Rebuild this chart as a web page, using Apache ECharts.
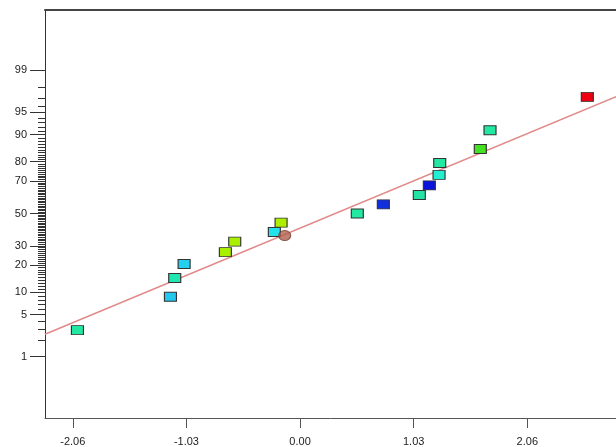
<!DOCTYPE html>
<html>
<head>
<meta charset="utf-8">
<script src="https://cdn.jsdelivr.net/npm/echarts@6/dist/echarts.min.js"></script>
<style>
html,body{margin:0;padding:0;background:#fff;}
#chart{width:616px;height:447px;}
</style>
</head>
<body>
<div id="chart"></div>
<script>
// ---- data ----
var residuals = [-2.018, -1.175, -1.136, -1.051, -0.677, -0.592, -0.233, -0.172, 0.519, 0.755, 1.081, 1.172, 1.260, 1.266, 1.634, 1.722, 2.604];
var normalPercent = [2.9, 8.8, 14.7, 20.6, 26.5, 32.4, 38.2, 44.1, 50.0, 55.9, 61.8, 67.6, 73.5, 79.4, 85.3, 91.2, 97.1];
var pointColors = ['#22e8a2', '#22c8ee', '#22e6b0', '#22cfee', '#a9ef00', '#a9ef00', '#22e2ee', '#aeef00', '#22e8a2', '#1030e0', '#22e2a4', '#0a14dc', '#22efd0', '#22e8a2', '#44e022', '#22e8a2', '#ee0010'];
var markedX = [-0.139];
var markedPercent = [36.0];
var fitLineX = [-2.312, 2.864];
var fitLineZ = [-1.964, 1.899];
var xTickValues = [-2.06, -1.03, 0.00, 1.03, 2.06];
var yTickLabels = [1, 5, 10, 20, 30, 50, 70, 80, 90, 95, 99];
var yMinorPercents = [];
for (var k = 1; k <= 99; k++) yMinorPercents.push(k);

// inverse normal CDF (Acklam) for the probability axis
function probit(p) {
  var a = [-3.969683028665376e+01, 2.209460984245205e+02, -2.759285104469687e+02, 1.383577518672690e+02, -3.066479806614716e+01, 2.506628277459239e+00];
  var b = [-5.447609879822406e+01, 1.615858368580409e+02, -1.556989798598866e+02, 6.680131188771972e+01, -1.328068155288572e+01];
  var c = [-7.784894002430293e-03, -3.223964580411365e-01, -2.400758277161838e+00, -2.549732539343734e+00, 4.374664141464968e+00, 2.938163982698783e+00];
  var d = [7.784695709041462e-03, 3.224671290700398e-01, 2.445134137142996e+00, 3.754408661907416e+00];
  var plow = 0.02425, phigh = 1 - plow, q, r;
  if (p < plow) {
    q = Math.sqrt(-2 * Math.log(p));
    return (((((c[0]*q+c[1])*q+c[2])*q+c[3])*q+c[4])*q+c[5]) / ((((d[0]*q+d[1])*q+d[2])*q+d[3])*q+1);
  } else if (p <= phigh) {
    q = p - 0.5; r = q * q;
    return (((((a[0]*r+a[1])*r+a[2])*r+a[3])*r+a[4])*r+a[5])*q / (((((b[0]*r+b[1])*r+b[2])*r+b[3])*r+b[4])*r+1);
  } else {
    q = Math.sqrt(-2 * Math.log(1 - p));
    return -(((((c[0]*q+c[1])*q+c[2])*q+c[3])*q+c[4])*q+c[5]) / ((((d[0]*q+d[1])*q+d[2])*q+d[3])*q+1);
  }
}
var majorZ = yTickLabels.map(function (v) { return probit(v / 100); });
var minorZ = yMinorPercents.map(function (v) { return probit(v / 100); });

var pointData = residuals.map(function (x, i) {
  return { value: [x, probit(normalPercent[i] / 100)], itemStyle: { color: pointColors[i] } };
});
var markedData = markedX.map(function (x, i) { return [x, probit(markedPercent[i] / 100)]; });
var lineData = fitLineX.map(function (x, i) { return [x, fitLineZ[i]]; });

var font = 'Liberation Sans, Arial, sans-serif';
var chart = echarts.init(document.getElementById('chart'), null, { renderer: 'canvas' });
chart.setOption({
  animation: false,
  backgroundColor: '#fff',
  grid: { left: 45, top: 10, width: 571, height: 408, show: false },
  xAxis: [{
    type: 'value', min: -2.312, max: 2.864, position: 'bottom',
    axisLine: { show: true, onZero: false, lineStyle: { color: '#555', width: 1 } },
    axisTick: { show: true, customValues: xTickValues, length: 10, lineStyle: { color: '#555' } },
    axisLabel: { show: true, customValues: xTickValues, margin: 18, color: '#222', fontSize: 11, fontFamily: font,
      formatter: function (v) { return Number(v).toFixed(2); } },
    splitLine: { show: false }
  }, {
    type: 'value', min: -2.312, max: 2.864, position: 'top',
    axisLine: { show: true, onZero: false, lineStyle: { color: '#444', width: 2 } },
    axisTick: { show: false }, axisLabel: { show: false }, splitLine: { show: false }
  }],
  yAxis: [{
    type: 'value', min: -3.325, max: 3.309, position: 'left',
    axisLine: { show: true, onZero: false, lineStyle: { color: '#333', width: 1 } },
    axisTick: { show: true, customValues: majorZ, length: 15, lineStyle: { color: '#333' } },
    axisLabel: { show: true, customValues: majorZ, margin: 18, color: '#222', fontSize: 11, fontFamily: font,
      formatter: function (v) {
        var best = 0, bd = 1e9;
        for (var i = 0; i < majorZ.length; i++) { var dd = Math.abs(majorZ[i] - v); if (dd < bd) { bd = dd; best = i; } }
        return String(yTickLabels[best]);
      } },
    splitLine: { show: false }
  }, {
    type: 'value', min: -3.325, max: 3.309, position: 'left', offset: 0,
    axisLine: { show: false, onZero: false },
    axisTick: { show: true, customValues: minorZ, length: 7, lineStyle: { color: '#333' } },
    axisLabel: { show: false }, splitLine: { show: false }
  }],
  series: [{
    type: 'line', data: lineData, symbol: 'none', silent: true,
    lineStyle: { color: '#e08a8a', width: 1.5 }, z: 2
  }, {
    type: 'scatter', data: pointData, symbol: 'rect', symbolSize: [12, 9], silent: true,
    itemStyle: { borderColor: '#333', borderWidth: 1, opacity: 1 }, z: 3
  }, {
    type: 'scatter', data: markedData, symbol: 'circle', symbolSize: [12, 10], silent: true,
    itemStyle: { color: '#b0604f', borderColor: '#6e3a30', borderWidth: 1 }, z: 4
  }]
});
</script>
</body>
</html>
